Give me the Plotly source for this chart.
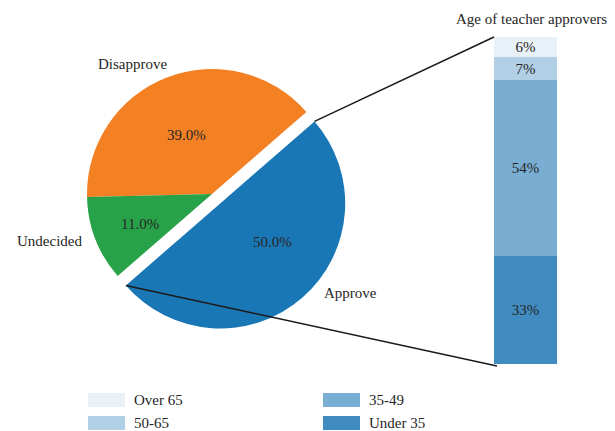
import math
import plotly.graph_objects as go

W, H = 615, 431

# ---- data ----
overall_labels = ["Approve", "Disapprove", "Undecided"]
overall_ratios = [0.50, 0.39, 0.11]
pie_colors = ["#1a77b5", "#f48024", "#28a248"]

age_labels = ["Under 35", "35-49", "50-65", "Over 65"]
age_ratios = [0.33, 0.54, 0.07, 0.06]
age_alphas = [0.85, 0.60, 0.35, 0.10]

bar_title = "Age of teacher approvers"

FONT = "'Liberation Serif', 'Times New Roman', 'DejaVu Serif', serif"
TXT = "#262626"


def px(x):
    return x / W


def py(y):
    return 1 - y / H


# ---- pie geometry ----
pie_cx, pie_cy = 212.0, 194.0     # centre in pixels
box = 275.0                        # square domain size
pull = 0.1
rotation = 49                      # degrees, clockwise from 12 o'clock
radius = box / (2 + 2 * pull)

pie_domain_x = [px(pie_cx - box / 2), px(pie_cx + box / 2)]
pie_domain_y = [py(pie_cy + box / 2), py(pie_cy - box / 2)]

fig = go.Figure()
fig.add_trace(go.Pie(
    labels=overall_labels,
    values=overall_ratios,
    marker=dict(colors=pie_colors, line=dict(width=0)),
    sort=False,
    direction="counterclockwise",
    rotation=rotation,
    pull=[pull, 0, 0],
    textinfo="none",
    domain=dict(x=pie_domain_x, y=pie_domain_y),
    showlegend=False,
))

# ---- stacked bar ----
bar_left, bar_right, bar_top, bar_bottom = 494, 557, 37, 364
for lab, val, a in zip(age_labels, age_ratios, age_alphas):
    fig.add_trace(go.Bar(
        x=[0], y=[val], name=lab,
        marker=dict(color=f"rgba(31,119,180,{a})", line=dict(width=0)),
        text=[f"{round(val * 100)}%"],
        textposition="inside",
        insidetextanchor="middle",
        constraintext="none",
        textfont=dict(family=FONT, size=15, color=TXT),
        showlegend=False,
        width=1.0,
    ))

# ---- connection lines (from the exploded wedge edges to the bar corners) ----
t1 = math.radians(90 - rotation)                    # end of Approve wedge (math angle)
t0 = t1 - 2 * math.pi * overall_ratios[0]           # start of Approve wedge
tm = (t0 + t1) / 2
c1x = pie_cx + pull * radius * math.cos(tm)
c1y = pie_cy - pull * radius * math.sin(tm)
p_top = (c1x + radius * math.cos(t1), c1y - radius * math.sin(t1))
p_bot = (c1x + radius * math.cos(t0), c1y - radius * math.sin(t0))

shapes = [
    dict(type="line", xref="paper", yref="paper",
         x0=px(p_top[0]), y0=py(p_top[1]), x1=px(bar_left), y1=py(bar_top),
         line=dict(color="#1a1a1a", width=1.5)),
    dict(type="line", xref="paper", yref="paper",
         x0=px(p_bot[0]), y0=py(p_bot[1]), x1=px(bar_left + 3), y1=py(bar_bottom + 2),
         line=dict(color="#1a1a1a", width=1.5)),
]

annotations = []
# percentages inside the pie
pct_pos = [(272, 242), (186, 135), (140, 224)]
for v, (x, y) in zip(overall_ratios, pct_pos):
    annotations.append(dict(x=px(x), y=py(y), xref="paper", yref="paper",
                            text=f"{v * 100:.1f}%", showarrow=False,
                            xanchor="center", yanchor="middle",
                            font=dict(family=FONT, size=15, color=TXT)))
# outside labels
lab_pos = [(322, 293, "left"), (169, 64, "right"), (84, 241, "right")]
for lab, (x, y, anc) in zip(overall_labels, lab_pos):
    annotations.append(dict(x=px(x), y=py(y), xref="paper", yref="paper",
                            text=lab, showarrow=False,
                            xanchor=anc, yanchor="middle",
                            font=dict(family=FONT, size=15, color=TXT)))
# bar title
annotations.append(dict(x=px(531), y=py(19), xref="paper", yref="paper",
                        text=bar_title, showarrow=False,
                        xanchor="center", yanchor="middle",
                        font=dict(family=FONT, size=15, color=TXT)))

# ---- legend (two columns, column-major) ----
leg_items = list(zip(age_labels, age_alphas))[::-1]
for i, (lab, a) in enumerate(leg_items):
    col, row = i // 2, i % 2
    x0 = 88 + col * 235
    y0 = 393 + row * 23
    shapes.append(dict(type="rect", xref="paper", yref="paper",
                       x0=px(x0), x1=px(x0 + 37), y0=py(y0 + 14), y1=py(y0),
                       fillcolor=f"rgba(31,119,180,{a})", line=dict(width=0)))
    annotations.append(dict(x=px(x0 + 44), y=py(y0 + 7), xref="paper", yref="paper",
                            text=lab, showarrow=False,
                            xanchor="left", yanchor="middle",
                            font=dict(family=FONT, size=15, color=TXT)))

fig.update_layout(
    width=W, height=H,
    margin=dict(l=0, r=0, t=0, b=0),
    paper_bgcolor="white", plot_bgcolor="white",
    barmode="stack", bargap=0,
    xaxis=dict(domain=[px(bar_left), px(bar_right)], range=[-0.5, 0.5], visible=False,
               fixedrange=True),
    yaxis=dict(domain=[py(bar_bottom), py(bar_top)], range=[0, 1], visible=False,
               fixedrange=True),
    shapes=shapes,
    annotations=annotations,
    font=dict(family=FONT, size=15, color=TXT),
)

fig.write_html("out.html")
